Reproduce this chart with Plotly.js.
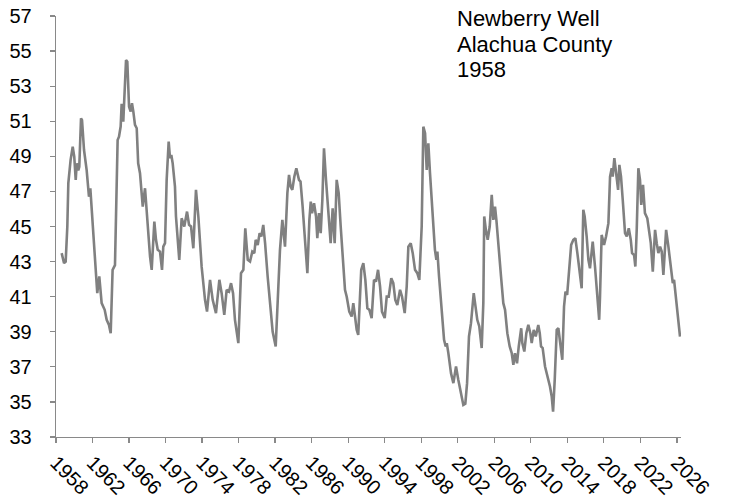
<!DOCTYPE html>
<html>
<head>
<meta charset="utf-8">
<script src="https://cdn.plot.ly/plotly-3.0.1.min.js"></script>
<style>html,body{margin:0;padding:0;background:#fff;}#chart{width:729px;height:498px;}</style>
</head>
<body>
<div id="chart"></div>
<script>
const years = [1958.62,1958.88,1959.06,1959.24,1959.35,1959.6,1959.83,1960.0,1960.16,1960.27,1960.44,1960.55,1960.74,1960.85,1961.07,1961.36,1961.61,1961.76,1961.94,1962.27,1962.52,1962.74,1963.0,1963.33,1963.55,1963.8,1963.99,1964.2,1964.46,1964.75,1964.9,1965.08,1965.19,1965.37,1965.48,1965.67,1965.81,1966.0,1966.18,1966.32,1966.47,1966.65,1966.84,1967.0,1967.2,1967.5,1967.75,1967.93,1968.3,1968.48,1968.77,1968.95,1969.14,1969.39,1969.61,1969.75,1969.94,1970.12,1970.34,1970.49,1970.63,1970.78,1971.03,1971.14,1971.5,1971.76,1972.05,1972.35,1972.57,1972.79,1973.04,1973.33,1973.59,1973.95,1974.32,1974.54,1974.87,1975.16,1975.52,1975.89,1976.14,1976.43,1976.69,1976.95,1977.17,1977.39,1977.6,1977.97,1978.26,1978.52,1978.73,1979.0,1979.25,1979.5,1979.72,1979.87,1980.09,1980.3,1980.49,1980.7,1980.9,1981.18,1981.44,1981.73,1982.06,1982.28,1982.53,1982.79,1983.08,1983.34,1983.52,1983.7,1983.88,1984.1,1984.32,1984.61,1984.78,1985.0,1985.27,1985.53,1985.75,1985.9,1986.04,1986.26,1986.48,1986.62,1986.8,1986.99,1987.17,1987.35,1987.57,1987.82,1988.08,1988.3,1988.52,1988.74,1988.96,1989.18,1989.4,1989.65,1989.84,1990.12,1990.38,1990.56,1990.75,1990.93,1991.1,1991.3,1991.43,1991.66,1991.88,1992.1,1992.32,1992.57,1992.83,1993.05,1993.27,1993.49,1993.7,1994.0,1994.22,1994.44,1994.72,1994.94,1995.16,1995.38,1995.68,1995.9,1996.19,1996.41,1996.59,1996.85,1997.07,1997.32,1997.57,1997.79,1998.05,1998.23,1998.42,1998.6,1998.78,1998.96,1999.2,1999.5,1999.66,1999.77,1999.95,2000.24,2000.5,2000.68,2000.8,2000.97,2001.26,2001.52,2001.81,2002.06,2002.36,2002.61,2002.83,2003.02,2003.23,2003.45,2003.75,2003.97,2004.14,2004.36,2004.62,2004.8,2004.9,2005.08,2005.28,2005.5,2005.72,2005.9,2006.08,2006.23,2006.44,2006.74,2006.99,2007.18,2007.43,2007.69,2007.91,2008.09,2008.27,2008.49,2008.68,2008.95,2009.07,2009.29,2009.51,2009.73,2009.95,2010.1,2010.32,2010.54,2010.82,2010.98,2011.12,2011.3,2011.56,2011.85,2012.1,2012.29,2012.44,2012.62,2012.84,2013.02,2013.2,2013.45,2013.64,2013.8,2013.98,2014.2,2014.42,2014.66,2014.88,2015.1,2015.32,2015.57,2015.75,2015.9,2016.12,2016.31,2016.48,2016.78,2017.03,2017.49,2017.58,2017.76,2018.02,2018.24,2018.5,2018.68,2018.86,2018.97,2019.15,2019.41,2019.56,2019.7,2019.88,2020.07,2020.32,2020.51,2020.73,2020.95,2021.09,2021.31,2021.45,2021.6,2021.78,2021.96,2022.1,2022.29,2022.5,2022.76,2022.98,2023.14,2023.36,2023.61,2023.79,2023.97,2024.16,2024.34,2024.52,2024.82,2025.07,2025.33,2025.55,2025.69,2025.98,2026.34];
const levels = [43.48,42.91,43.0,45.0,47.47,48.8,49.55,48.98,47.66,48.6,48.2,48.41,51.17,51.07,49.36,48.2,46.7,47.18,45.76,43.1,41.2,42.15,40.63,40.25,39.68,39.39,38.92,42.53,42.8,49.93,50.12,50.7,52.0,50.98,52.4,54.49,54.4,51.83,51.55,52.03,51.55,50.79,50.6,48.6,48.04,46.13,47.18,45.76,43.28,42.53,45.28,44.24,43.67,43.57,42.53,43.85,44.05,47.66,49.84,48.89,49.08,48.6,47.27,45.57,43.1,45.47,45.0,45.85,45.1,45.0,43.76,47.09,45.57,42.71,40.82,40.15,41.96,40.82,40.06,41.96,41.2,39.96,41.39,41.29,41.77,41.2,39.68,38.35,42.34,42.53,44.9,43.1,43.0,43.57,43.48,44.24,43.95,44.62,44.43,45.09,44.05,42.15,40.44,39.0,38.16,40.44,43.67,45.38,43.85,46.9,47.94,47.27,47.09,47.84,48.32,47.66,47.56,46.2,44.4,42.34,45.38,46.42,45.76,46.33,45.57,44.33,45.76,44.62,46.51,49.46,47.66,45.95,44.05,46.04,44.05,47.66,46.9,45.0,43.48,41.39,41.0,40.15,39.87,40.63,39.87,39.11,38.82,40.82,42.53,42.91,41.96,40.34,40.25,39.78,41.96,41.86,42.53,41.58,40.15,39.78,41.0,41.0,42.05,41.77,40.82,40.53,41.39,41.0,40.06,41.58,43.85,44.05,43.48,42.53,42.34,41.96,45.0,50.69,50.32,48.22,49.74,48.04,46.13,43.67,43.1,43.57,42.15,40.06,38.54,38.16,38.35,37.78,36.64,36.07,37.02,36.26,35.5,34.83,34.9,36.07,38.73,39.49,41.2,40.44,39.68,39.3,38.07,40.63,45.57,44.81,44.24,45.0,46.8,45.38,46.13,45.38,43.85,42.15,40.63,40.25,38.92,38.16,37.78,37.11,37.78,37.2,38.16,39.2,38.35,37.87,38.92,39.39,38.92,38.35,39.11,38.73,39.39,38.92,38.16,38.07,37.02,36.45,35.88,35.31,34.45,36.26,39.11,39.2,38.54,37.4,40.44,41.29,41.1,42.53,43.95,44.24,44.33,43.48,42.53,41.48,45.95,45.57,44.43,43.1,42.62,44.14,42.72,39.68,41.0,44.52,43.95,44.43,45.19,47.84,48.32,47.84,48.9,47.94,47.09,48.51,47.84,46.51,44.62,44.43,44.9,44.24,43.48,43.38,42.72,44.81,48.32,47.66,46.23,47.37,45.76,45.47,44.71,44.05,42.43,44.81,44.05,43.48,43.85,43.57,42.24,44.81,43.85,42.53,41.77,41.96,40.63,38.73];
const yTicks = [33,35,37,39,41,43,45,47,49,51,53,55,57];
const xTicks = [1958,1962,1966,1970,1974,1978,1982,1986,1990,1994,1998,2002,2006,2010,2014,2018,2022,2026];
const titleLines = ["Newberry Well","Alachua County","1958"];

const font = {family: "Arial, 'Liberation Sans', sans-serif", size: 20, color: "#000"};
const axisColor = "#898989";

const annotations = titleLines.map((t, i) => ({
  text: t, xref: "paper", yref: "paper", x: 0.639, y: 1,
  xanchor: "left", yanchor: "middle", yshift: [-2, -28.7, -53.2][i],
  showarrow: false, font: {family: font.family, size: 22, color: "#000"}
}));

Plotly.newPlot("chart", [{
  x: years, y: levels, type: "scatter", mode: "lines",
  line: {color: "#808080", width: 2.6}, hoverinfo: "skip"
}], {
  width: 729, height: 498,
  margin: {l: 56, r: 48, t: 16, b: 61, pad: 0},
  paper_bgcolor: "#fff", plot_bgcolor: "#fff",
  showlegend: false,
  font: font,
  xaxis: {
    range: [1958, 2026.45], tickmode: "array", tickvals: xTicks,
    ticktext: xTicks.map(String), tickangle: 45,
    showgrid: false, zeroline: false, showline: true, linecolor: axisColor, linewidth: 1.3,
    ticks: "outside", ticklen: 5, tickcolor: axisColor, tickwidth: 1.3,
    tickfont: font
  },
  yaxis: {
    range: [33, 57], tickmode: "array", tickvals: yTicks,
    ticktext: yTicks.map(String),
    showgrid: false, zeroline: false, showline: true, linecolor: axisColor, linewidth: 1.3,
    ticks: "outside", ticklen: 5, tickcolor: axisColor, tickwidth: 1.3,
    ticklabelstandoff: 14, tickfont: font
  },
  annotations: annotations
}, {displayModeBar: false, staticPlot: true});
</script>
</body>
</html>
